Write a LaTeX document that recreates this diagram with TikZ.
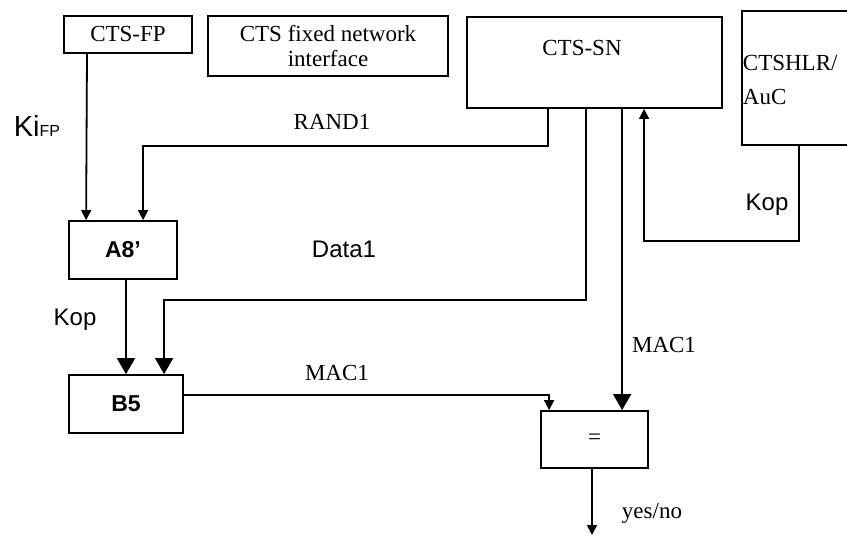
\documentclass[tikz,border=0pt]{standalone}
\usepackage{fontspec}
\setmainfont{Liberation Serif}
\setsansfont{Liberation Sans}
\usetikzlibrary{arrows.meta}

\begin{document}
\begin{tikzpicture}[x=1bp, y=-1bp, line width=1.8bp,
    box/.style={draw, inner sep=0pt, align=center, font=\fontsize{23bp}{25bp}\selectfont},
    fbox/.style={draw, inner sep=0pt, font=\sffamily\bfseries\fontsize{23bp}{26bp}\selectfont},
    serif/.style={inner sep=0pt, font=\fontsize{23bp}{25bp}\selectfont},
    sans/.style={inner sep=0pt, font=\sffamily\fontsize{24bp}{28bp}\selectfont},
    sarr/.style={-{Triangle[length=10bp,width=10bp]}},
    barr/.style={-{Triangle[length=16bp,width=18bp]}}]
    \useasboundingbox (0,0) rectangle (847,536);
    \clip (0,0) rectangle (847,536);
    % top row
    \node[box, minimum width=128bp, minimum height=37bp] (fp) at (128,34.5) {CTS-FP};
    \node[box, minimum width=240bp, minimum height=60bp] (fni) at (328,46) {CTS fixed network\\interface};
    \node[box, minimum width=255bp, minimum height=91bp] (sn) at (594.5,62.5) {};
    \node[serif] (sntxt) at (582,48) {CTS-SN};
    \node[box, minimum width=130bp, minimum height=134bp] (hlr) at (807,78) {};
    \node[serif, anchor=west, align=left] (hlrtxt) at (742,80) {CTSHLR/\\[9bp]AuC};
    % function blocks
    \node[fbox, minimum width=108bp, minimum height=58bp] (a8) at (123,250) {A8’};
    \node[fbox, minimum width=114bp, minimum height=58bp] (b5) at (126,404) {B5};
    \node[box, minimum width=107bp, minimum height=57bp] (eq) at (594.5,439.5) {=};
    \coordinate (out) at (592,535);
    % connectors
    \draw[sarr] (fp.south -| 87,0) -- ([xshift=18bp]a8.north west);
    \draw[sarr] ([xshift=82bp]sn.south west) -- ++(0,37) -| ([xshift=75bp]a8.north west);
    \draw[barr] (a8.south -| b5.north) -- (b5.north);
    \draw[barr] ([xshift=120bp]sn.south west) -- ++(0,191) -| ([xshift=96bp]b5.north west);
    \draw[sarr] ([yshift=9bp]b5.east) -| ([xshift=9bp]eq.north west);
    \draw[barr] ([xshift=156bp]sn.south west) -- ([xshift=156bp]sn.south west |- eq.north);
    \draw[sarr] ([xshift=58bp]hlr.south west) -- ++(0,95) -| ([xshift=178bp]sn.south west);
    \draw[sarr] (eq.south -| out) -- (out);
    % labels
    \node[sans] (lki) at (37,126) {{\fontsize{29bp}{30bp}\selectfont Ki}{\fontsize{16bp}{18bp}\selectfont FP}};
    \node[serif] (lrand) at (332,122) {RAND1};
    \node[sans] (ldata) at (344,249) {Data1};
    \node[sans] (lkop) at (75,320) {Kop};
    \node[serif] (lmac) at (337,373) {MAC1};
    \node[serif] (lmac2) at (664,345) {MAC1};
    \node[sans] (lkop2) at (767,205) {Kop};
    \node[serif] (lyes) at (652,513) {yes/no};
\end{tikzpicture}
\end{document}
